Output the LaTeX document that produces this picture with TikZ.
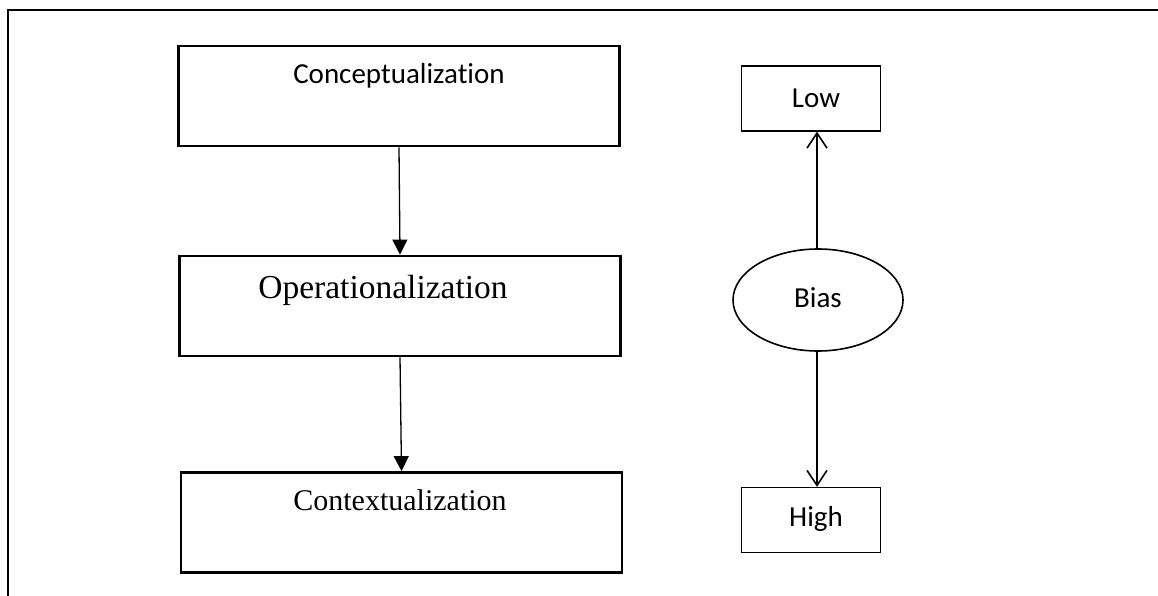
\documentclass[tikz,border=0pt]{standalone}
\usepackage{fontspec}
\setmainfont{Liberation Serif}
\newfontfamily\calibri[Ligatures=NoCommon]{Carlito}
\usetikzlibrary{arrows.meta,shapes.geometric}

\tikzset{
  bigbox/.style={draw, line width=2.8pt, minimum width=441pt, minimum height=100pt, inner sep=0pt},
  smallbox/.style={draw, line width=1.3pt, minimum width=139pt, minimum height=65pt, inner sep=0pt},
  sanslabel/.style={font=\calibri\fontsize{29}{34}\selectfont, inner sep=0pt},
  seriflabel/.style={font=\fontsize{33.5}{40}\selectfont, inner sep=0pt},
  flowarrow/.style={line width=1.3pt, -{Triangle[length=15pt, width=15pt]}},
  biasarrow/.style={line width=1.6pt, -{Straight Barb[length=15pt, width=20pt, line width=1.6pt]}},
}

\begin{document}
\begin{tikzpicture}[x=1pt, y=-1pt]
  \useasboundingbox (0,0) rectangle (1158,596);

  % outer frame
  \draw[line width=2.2pt] (8,600) -- (8,10) -- (1162,10);

  % left column: three stages
  \node[bigbox] (concept) at (399,96) {};
  \node[sanslabel] (concepttext) at (399,76) {Conceptualization};

  \node[bigbox] (oper) at (400,306) {};
  \node[seriflabel] (opertext) at (383,290) {Operationalization};

  \node[bigbox] (context) at (401.5,522.5) {};
  \node[seriflabel, font=\fontsize{30}{36}\selectfont] (contexttext) at (400,500) {Contextualization};

  \draw[flowarrow] (concept.south) -- (oper.north);
  \draw[flowarrow] (oper.south) -- (context.north);

  % right column: bias scale
  \node[smallbox] (low) at (811,98.5) {};
  \node[sanslabel] (lowtext) at (816,98) {Low};

  \node[draw, ellipse, line width=1.6pt, minimum width=170pt, minimum height=102pt, inner sep=0pt] (bias) at (818,300) {};
  \node[sanslabel] (biastext) at (818,298) {Bias};

  \node[smallbox] (high) at (811,520) {};
  \node[sanslabel] (hightext) at (816,519) {High};

  \draw[biasarrow] (bias.north -| 817,0) -- (low.south -| 817,0);
  \draw[biasarrow] (bias.south -| 817,0) -- (high.north -| 817,0);
\end{tikzpicture}
\end{document}
